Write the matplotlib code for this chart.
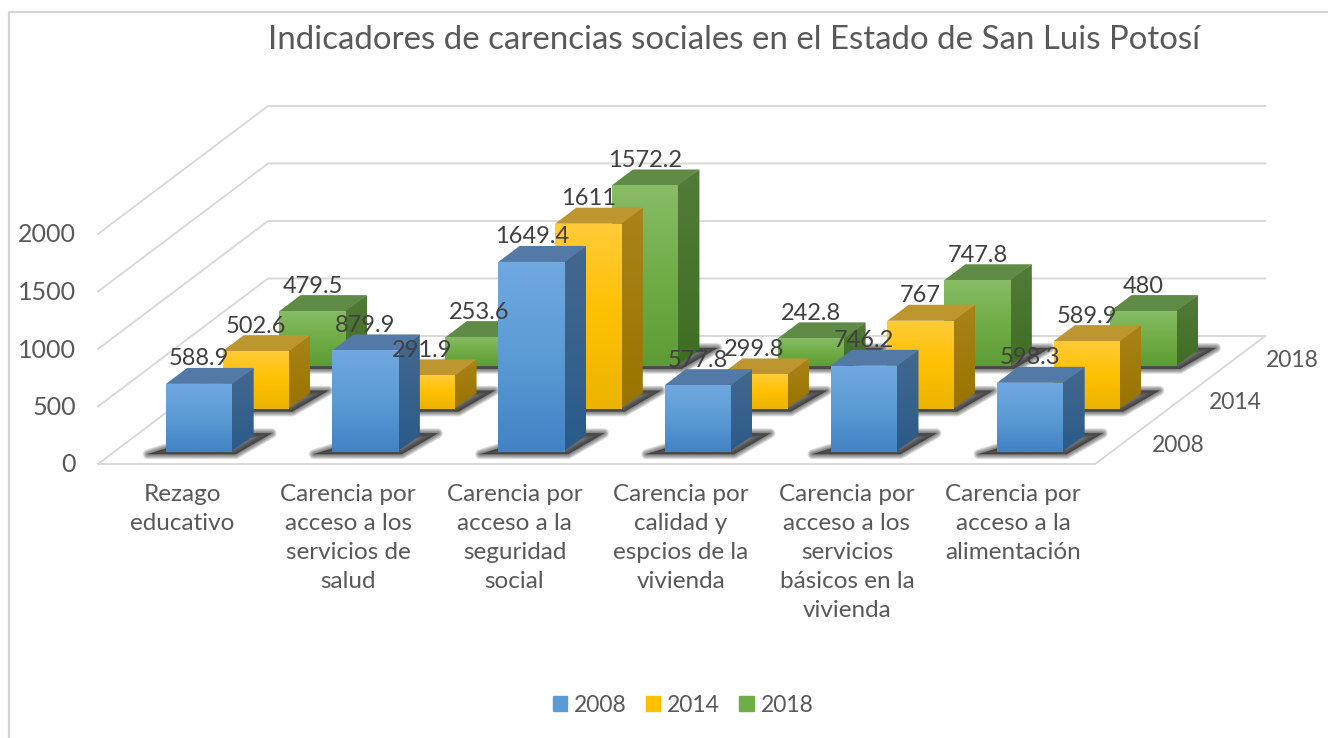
import matplotlib
matplotlib.use("Agg")
import matplotlib.pyplot as plt
from matplotlib.colors import to_rgb
from matplotlib.patches import Patch, Polygon
import numpy as np

plt.rcParams['font.family'] = ['Lato', 'DejaVu Sans']

categories = [
    "Rezago\neducativo",
    "Carencia por\nacceso a los\nservicios de\nsalud",
    "Carencia por\nacceso a la\nseguridad\nsocial",
    "Carencia por\ncalidad y\nespcios de la\nvivienda",
    "Carencia por\nacceso a los\nservicios\nbásicos en la\nvivienda",
    "Carencia por\nacceso a la\nalimentación",
]
years = ["2008", "2014", "2018"]
values_2008 = [588.9, 879.9, 1649.4, 577.8, 746.2, 598.3]
values_2014 = [502.6, 291.9, 1611, 299.8, 767, 589.9]
values_2018 = [479.5, 253.6, 1572.2, 242.8, 747.8, 480]
yticks = [0, 500, 1000, 1500, 2000]

# front face (top, mid, bottom), side face (top, bottom), lid
blue = (["#70A8E0", "#5B9BD5", "#4382C4"], ["#44688F", "#2A5B8A"], "#5379A6")
yellow = (["#FFCB38", "#FFC000", "#EBB400"], ["#A88318", "#9A7400"], "#BE9630")
green = (["#88BC66", "#70AD47", "#5E9C36"], ["#537B39", "#3E6E22"], "#5F8B46")

text_color = '#595959'
grid_color = '#D9D9D9'

# oblique projection of the Excel 3D chart, in figure pixels
X0, Y0 = 98, 464
CAT_W = 166.2
DEPTH_X, DEPTH_Y = 56.67, 42.67
V_SCALE = 0.115


def proj(cat, depth, val=0):
    return (X0 + cat * CAT_W + depth * DEPTH_X, Y0 - depth * DEPTH_Y - val * V_SCALE)


def gradient_face(ax, pts, stops, z):
    xs = [p[0] for p in pts]
    ys = [p[1] for p in pts]
    rows = np.linspace(0, 1, 64)
    pos = np.linspace(0, 1, len(stops))
    rgb = np.array([to_rgb(c) for c in stops])
    img = np.stack([np.interp(rows, pos, rgb[:, k]) for k in range(3)], axis=1)[:, None, :]
    im = ax.imshow(img, extent=(min(xs), max(xs), max(ys), min(ys)), aspect='auto',
                   interpolation='bilinear', zorder=z)
    im.set_clip_path(Polygon(pts, closed=True, transform=ax.transData))


def draw_bar(ax, c, d, val, style, z):
    front, side, lid = style
    left, right = c + 0.31, c + 0.71
    depth = 0.375

    # soft shadow on the floor, stacked wide strokes fake the blur
    shadow = [proj(c + .22, d - .06), proj(c + .75, d - .06), proj(c + .80, d + .43), proj(c + .46, d + .43)]
    for lw in [7, 5.5, 4, 2.5, 1, 0]:
        ax.add_patch(Polygon(shadow, closed=True, facecolor='#262626', edgecolor='#262626',
                             lw=lw, alpha=0.16, joinstyle='round', zorder=z))

    # side first, pushed slightly under the front so no seam shows
    gradient_face(ax, [proj(right - 0.01, d, val), proj(right, d + depth, val), proj(right, d + depth), proj(right - 0.01, d)], side, z + 1)
    ax.add_patch(Polygon([proj(left, d, val), proj(right, d, val), proj(right, d + depth, val), proj(left, d + depth, val)],
                         closed=True, facecolor=lid, edgecolor='none', zorder=z + 1))
    gradient_face(ax, [proj(left, d, val), proj(right, d, val), proj(right, d), proj(left, d)], front, z + 1.5)


fig = plt.figure(figsize=(13.28, 7.38), dpi=100)
ax = fig.add_axes([0, 0, 1, 1])
ax.axis('off')

# chart border, only left and top are in the crop
ax.plot([9, 9, 1328], [738, 12, 12], color='#D4D4D4', lw=1.6, zorder=1)

# walls and floor
for t in yticks:
    ax.plot(*zip(proj(0, 0, t), proj(0, 3, t), proj(6, 3, t)), color=grid_color, lw=1.4, zorder=1)
ax.plot(*zip(proj(0, 0), proj(6, 0), proj(6, 3)), color=grid_color, lw=1.4, zorder=1)

styles = [blue, yellow, green]
series = [values_2008, values_2014, values_2018]

z = 10
for i in [2, 1, 0]:
    for c, val in enumerate(series[i]):
        draw_bar(ax, c, i + 0.29, val, styles[i], z)
        z += 2

# data labels sit over everything
for i in range(3):
    for c, val in enumerate(series[i]):
        ax.annotate(f'{val:g}', xy=proj(c + 0.51, i + 0.29, val), xytext=(0, 25),
                    textcoords='offset pixels', ha='center', va='center',
                    fontsize=17, color='#404040', zorder=200)

for t in yticks:
    x, y = proj(0, 0, t)
    ax.text(x - 22, y + 1, str(t), ha='right', va='center', fontsize=18, color=text_color)

for c, name in enumerate(categories):
    x, y = proj(c + 0.5, 0)
    ax.text(x + 1, y + 20, name, ha='center', va='top', fontsize=17.5, color=text_color, linespacing=1.47)

for i, year in enumerate(years):
    x, y = proj(6, i + 0.5)
    ax.text(x + 55, y + 3, year, ha='center', va='center', fontsize=16.5, color=text_color)

ax.text(734, 40, "Indicadores de carencias sociales en el Estado de San Luis Potosí",
        ha='center', va='center', fontsize=23.8, color=text_color)

handles = [Patch(color=styles[i][0][1], label=years[i]) for i in range(3)]
ax.legend(handles=handles, ncol=3, loc='center', bbox_to_anchor=(683 / 1328, 1 - 705 / 738),
          frameon=False, fontsize=16.5, labelcolor=text_color, handlelength=0.62, handleheight=0.62,
          handletextpad=0.3, columnspacing=0.85)

ax.set_xlim(0, 1328)
ax.set_ylim(738, 0)
fig.savefig("out.png", dpi=100)
